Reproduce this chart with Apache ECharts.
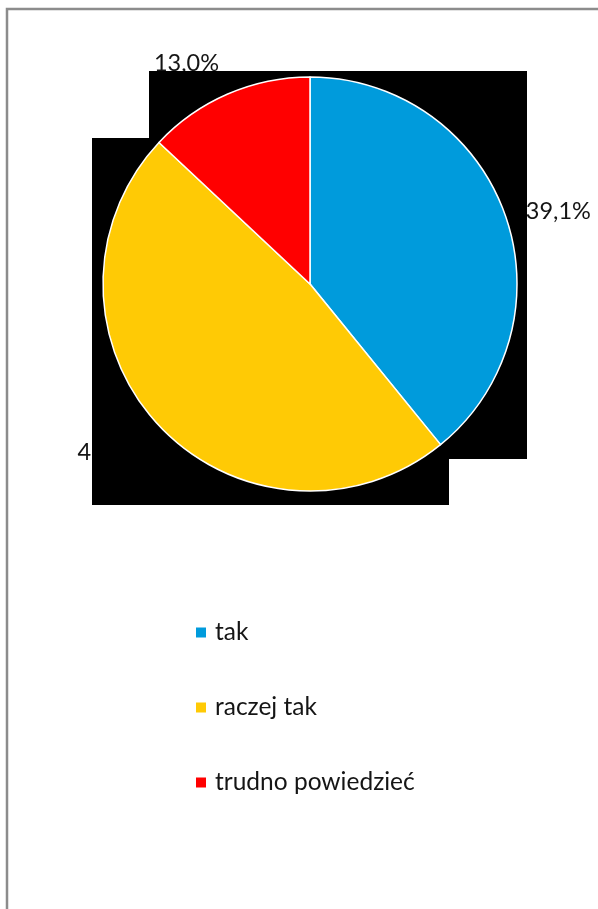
<!DOCTYPE html>
<html>
<head>
<meta charset="utf-8">
<script src="https://cdn.jsdelivr.net/npm/echarts@6/dist/echarts.min.js"></script>
<style>
  html, body { margin: 0; padding: 0; background: #fff; }
  #chart { width: 598px; height: 909px; }
</style>
</head>
<body>
<div id="chart"></div>
<script>
// odpowiedzi i udziały (%)
const categories = ['tak', 'raczej tak', 'trudno powiedzieć'];
const shares = [39.1, 47.8, 13.0];
const colors = ['#009bdc', '#ffca05', '#ff0000'];

const font = 'Lato, "Open Sans", sans-serif';
const pieData = categories.map((name, i) => ({
  name: name,
  value: shares[i],
  itemStyle: { color: colors[i] }
}));
const labelData = categories.map((name, i) => ({
  name: name,
  value: shares[i],
  itemStyle: { color: 'rgba(0,0,0,0)' }
}));
const center = [310, 284];
const radius = 207;
const labelDist = 22;

// etykieta "na zewnątrz", jak w Excelu: ramka tekstu dotyka okręgu r + odstęp
function excelLabel(params) {
  const total = shares.reduce((a, b) => a + b, 0);
  let before = 0;
  for (let k = 0; k < params.dataIndex; k++) before += shares[k];
  const mid = (before + shares[params.dataIndex] / 2) / total * Math.PI * 2;
  const ux = Math.sin(mid), uy = -Math.cos(mid);
  const R = radius + labelDist;
  const w = params.labelRect.width, h = params.labelRect.height;
  return {
    x: center[0] + ux * R + Math.sign(ux) * w / 2,
    y: center[1] + uy * R + uy * h / 2 + (1 - Math.abs(uy)) * h / 2,
    align: 'center',
    verticalAlign: 'middle'
  };
}

const chart = echarts.init(document.getElementById('chart'));
chart.setOption({
  animation: false,
  legend: {
    orient: 'vertical',
    left: 194,
    top: 620,
    padding: 0,
    icon: 'rect',
    itemWidth: 12,
    itemHeight: 12,
    itemGap: 50,
    textStyle: { fontFamily: font, fontSize: 24.5, color: '#151515', padding: [0, 0, 0, 3] },
    data: categories
  },
  graphic: [
    // ramka
    { type: 'rect', z: 0, shape: { x: 7, y: 9, width: 800, height: 1000 },
      style: { fill: 'none', stroke: '#8c8c8c', lineWidth: 2.5 } },
    // czarne tła (artefakt oryginału)
    { type: 'rect', z: 5, shape: { x: 149, y: 71, width: 378, height: 388 }, style: { fill: '#000' } },
    { type: 'rect', z: 5, shape: { x: 92, y: 138, width: 357, height: 367 }, style: { fill: '#000' } }
  ],
  series: [
    {
      type: 'pie',
      z: 10,
      center: center,
      radius: radius,
      startAngle: 90,
      label: { show: false },
      labelLine: { show: false },
      itemStyle: { borderColor: '#fff', borderWidth: 1.5 },
      data: pieData
    },
    {
      // etykiety pod czarnymi prostokątami
      type: 'pie',
      z: 1,
      center: center,
      radius: radius,
      startAngle: 90,
      silent: true,
      avoidLabelOverlap: false,
      label: {
        show: true,
        position: 'outside',
        formatter: p => p.value.toFixed(1).replace('.', ',') + '%',
        fontFamily: font,
        fontSize: 23.5,
        color: '#151515'
      },
      labelLine: { show: false },
      labelLayout: excelLabel,
      data: labelData
    }
  ]
});
</script>
</body>
</html>
